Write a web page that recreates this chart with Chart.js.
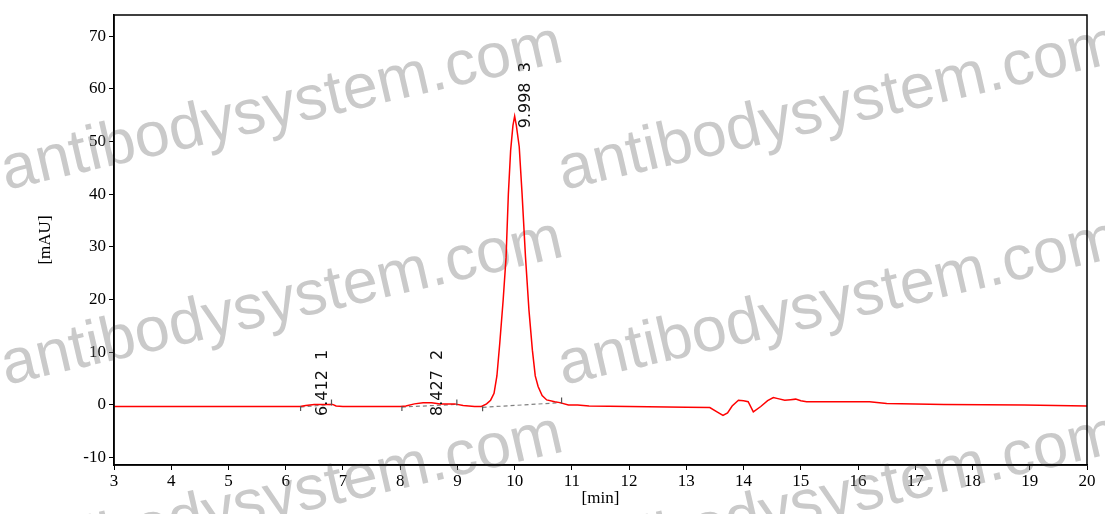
<!DOCTYPE html>
<html>
<head>
<meta charset="utf-8">
<script src="https://cdn.jsdelivr.net/npm/chart.js@4.4.1/dist/chart.umd.min.js"></script>
<style>
  body { margin: 0; background: #fff; }
  #wrap { width: 1105px; height: 514px; }
</style>
</head>
<body>
<div id="wrap"><canvas id="chromatogram" width="1105" height="514"></canvas></div>
<script>
// retention time [min] and absorbance [mAU]
const times = [3.0, 4.0, 5.0, 6.0, 6.25, 6.35, 6.5, 6.7, 6.82, 6.88, 7.0, 8.0, 8.1, 8.25, 8.4, 8.55, 8.7, 8.95, 9.1, 9.3,
  9.42, 9.51, 9.58, 9.64, 9.69, 9.74, 9.8, 9.85, 9.89, 9.93, 9.97, 10.0, 10.03, 10.08, 10.13, 10.19, 10.25, 10.31, 10.36, 10.41,
  10.48, 10.56, 10.7, 10.79, 10.94, 11.1, 11.3, 12.0, 13.0, 13.41, 13.55, 13.64, 13.72, 13.8, 13.91, 14.0, 14.08, 14.17, 14.3, 14.42,
  14.52, 14.6, 14.72, 14.82, 14.91, 15.0, 15.1, 16.2, 16.5, 17.5, 18.9, 20.0];
const signal = [-0.3, -0.3, -0.3, -0.3, -0.3, -0.1, 0.1, 0.1, 0.1, -0.2, -0.3, -0.3, -0.2, 0.2, 0.4, 0.4, 0.2, 0.2, -0.1, -0.3,
  -0.3, 0.2, 0.9, 2.2, 5.5, 11.7, 20, 28, 40, 48.3, 53, 54.8, 53, 49, 40, 28, 18, 10.4, 5.5, 3.5,
  1.8, 0.95, 0.6, 0.44, 0.0, 0.0, -0.2, -0.3, -0.45, -0.5, -1.4, -2.0, -1.5, -0.2, 0.9, 0.8, 0.6, -1.3, -0.3, 0.8,
  1.4, 1.2, 0.9, 1.0, 1.1, 0.8, 0.6, 0.6, 0.25, 0.1, 0.0, -0.2];

const xTicks = [3, 4, 5, 6, 7, 8, 9, 10, 11, 12, 13, 14, 15, 16, 17, 18, 19, 20];
const yTicks = [-10, 0, 10, 20, 30, 40, 50, 60, 70];

// integration baselines of the three peaks
const baseStartT = [6.26, 8.03, 9.44];
const baseStartV = [-0.4, -0.4, -0.45];
const baseEndT = [6.80, 8.99, 10.82];
const baseEndV = [0.1, 0.1, 0.44];

// peak labels
const peakLabels = ['6.412  1', '8.427  2', '9.998  3'];
const labelTimes = [6.645, 8.652, 10.20];
const labelValues = [-2.1, -2.1, 52.5];

const serif = '"Liberation Serif", "Times New Roman", serif';

const traceData = times.map((t, i) => ({ x: t, y: signal[i] }));
const baselineSets = baseStartT.map((t, i) => ({
    data: [{ x: t, y: baseStartV[i] }, { x: baseEndT[i], y: baseEndV[i] }],
    borderColor: '#808080',
    borderWidth: 1.2,
    borderDash: [4, 3],
    pointRadius: 0,
}));

const watermark = {
    id: 'watermark',
    beforeDatasetsDraw(chart) {
        const ctx = chart.ctx;
        ctx.save();
        ctx.font = '63px "Liberation Sans", Arial, sans-serif';
        ctx.fillStyle = 'rgba(128,128,128,0.42)';
        [[6, 190], [563, 190], [6, 385], [563, 385], [6, 580], [563, 580]].forEach(([x, y]) => {
            ctx.save();
            ctx.translate(x, y);
            ctx.rotate(-13 * Math.PI / 180);
            ctx.fillText('antibodysystem.com', 0, 0);
            ctx.restore();
        });
        ctx.restore();
    }
};

const peakMarks = {
    id: 'peakMarks',
    afterDatasetsDraw(chart) {
        const { ctx, chartArea, scales: { x, y } } = chart;
        ctx.save();
        // frame round the plot
        ctx.strokeStyle = '#000';
        ctx.lineWidth = 1.5;
        ctx.strokeRect(chartArea.left, chartArea.top, chartArea.right - chartArea.left, chartArea.bottom - chartArea.top);

        // little ticks at the ends of each baseline
        ctx.strokeStyle = '#555';
        ctx.lineWidth = 1.2;
        baseStartT.forEach((t, i) => {
            const sx = x.getPixelForValue(t), sy = y.getPixelForValue(baseStartV[i]);
            const ex = x.getPixelForValue(baseEndT[i]), ey = y.getPixelForValue(baseEndV[i]);
            ctx.beginPath();
            ctx.moveTo(sx, sy - 1); ctx.lineTo(sx, sy + 4);
            ctx.moveTo(ex, ey + 1); ctx.lineTo(ex, ey - 5);
            ctx.stroke();
        });

        // rotated peak labels
        ctx.fillStyle = '#111';
        ctx.font = '16px "DejaVu Sans", sans-serif';
        ctx.textAlign = 'left';
        ctx.textBaseline = 'middle';
        peakLabels.forEach((txt, i) => {
            ctx.save();
            ctx.translate(x.getPixelForValue(labelTimes[i]), y.getPixelForValue(labelValues[i]));
            ctx.rotate(-Math.PI / 2);
            ctx.fillText(txt, 0, 0);
            ctx.restore();
        });
        ctx.restore();
    }
};

new Chart(document.getElementById('chromatogram').getContext('2d'), {
    type: 'line',
    data: {
        datasets: [
            {
                data: traceData,
                borderColor: '#ff0000',
                borderWidth: 1.5,
                pointRadius: 0,
                tension: 0,
            },
            ...baselineSets
        ]
    },
    options: {
        responsive: false,
        animation: false,
        layout: { padding: { top: 15, right: 18, left: 0, bottom: 0 } },
        plugins: { legend: { display: false }, tooltip: { enabled: false } },
        scales: {
            x: {
                type: 'linear',
                min: 3,
                max: 20,
                afterBuildTicks: (s) => { s.ticks = xTicks.map((v) => ({ value: v })); },
                afterFit: (s) => { s.height = 49; },
                grid: { drawOnChartArea: false, color: '#000', tickLength: 5 },
                border: { color: '#000', width: 1.5 },
                ticks: { color: '#000', font: { family: serif, size: 17 }, padding: 1, maxRotation: 0, autoSkip: false },
                title: { display: true, text: '[min]', color: '#000', font: { family: serif, size: 17 }, padding: { top: 0, bottom: 5 } }
            },
            y: {
                type: 'linear',
                min: -11.4,
                max: 74,
                afterBuildTicks: (s) => { s.ticks = yTicks.map((v) => ({ value: v })); },
                afterFit: (s) => { s.width = 114; },
                grid: { drawOnChartArea: false, color: '#000', tickLength: 5 },
                border: { color: '#000', width: 1.5 },
                ticks: { color: '#000', font: { family: serif, size: 17 }, padding: 3 },
                title: { display: true, text: '[mAU]', color: '#000', font: { family: serif, size: 17 }, padding: { top: 35, bottom: 0 } }
            }
        }
    },
    plugins: [watermark, peakMarks]
});
</script>
</body>
</html>
